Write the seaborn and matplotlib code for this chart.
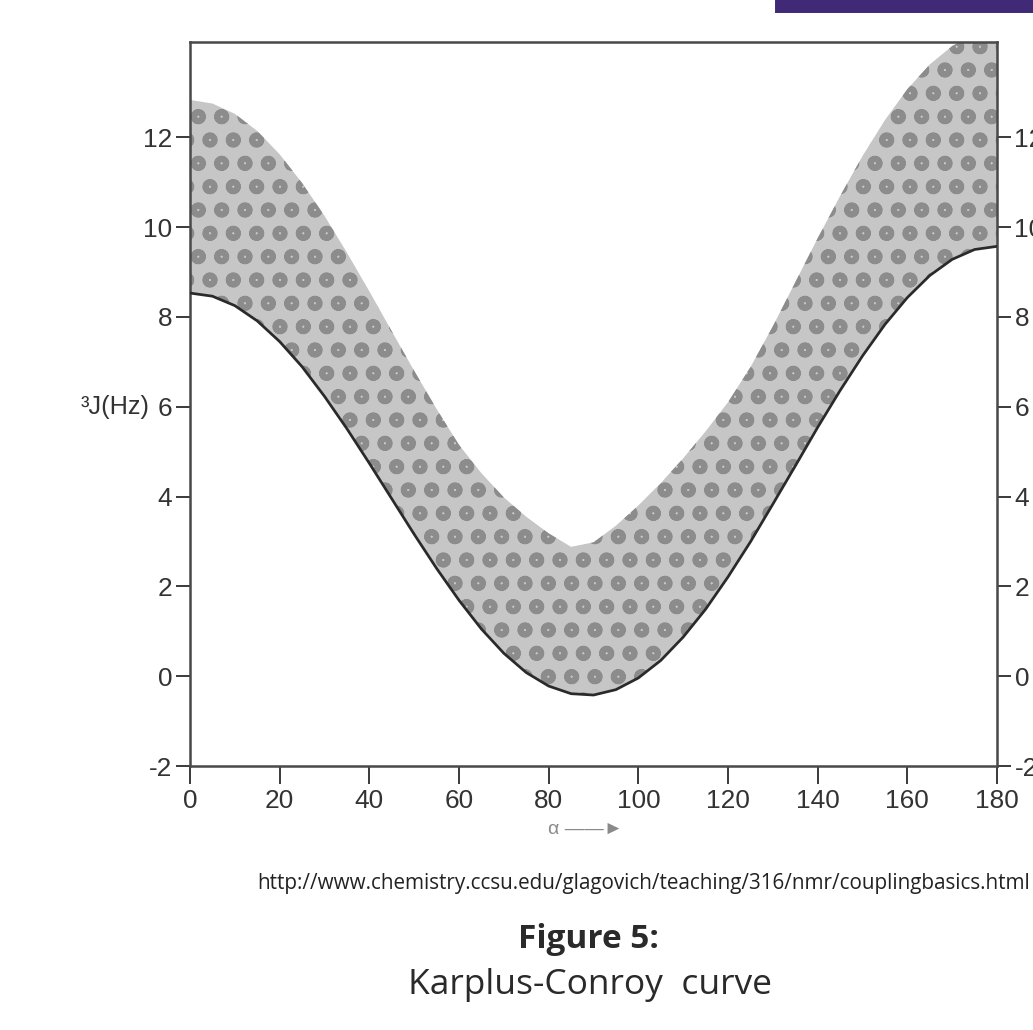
import matplotlib
matplotlib.use("Agg")
import matplotlib.pyplot as plt
import seaborn as sns
import pandas as pd

# dihedral angle (degrees) and coupling constants
alpha = [0, 5, 10, 15, 20, 25, 30, 35, 40, 45, 50, 55, 60, 65, 70, 75, 80, 85, 90,
         95, 100, 105, 110, 115, 120, 125, 130, 135, 140, 145, 150, 155, 160, 165,
         170, 175, 180]
j_lower = [8.53, 8.46, 8.25, 7.91, 7.45, 6.89, 6.23, 5.51, 4.74, 3.95, 3.16, 2.40,
           1.69, 1.05, 0.51, 0.08, -0.22, -0.39, -0.42, -0.30, -0.04, 0.35, 0.87,
           1.49, 2.21, 2.99, 3.83, 4.68, 5.54, 6.36, 7.13, 7.83, 8.43, 8.92, 9.28,
           9.50, 9.57]
j_upper = [12.83, 12.75, 12.52, 12.14, 11.62, 10.98, 10.25, 9.43, 8.57, 7.68, 6.80,
           5.95, 5.15, 4.52, 3.98, 3.55, 3.18, 2.88, 2.98, 3.35, 3.80, 4.30, 4.85,
           5.45, 6.10, 6.88, 7.79, 8.77, 9.75, 10.69, 11.58, 12.38, 13.07, 13.62,
           14.03, 14.29, 14.37]
yticks = [-2, 0, 2, 4, 6, 8, 10, 12]
xticks = [0, 20, 40, 60, 80, 100, 120, 140, 160, 180]

df = pd.DataFrame({"alpha": alpha, "lower": j_lower, "upper": j_upper})

sns.set_theme(style="white")
plt.rcParams["font.family"] = ["Liberation Sans", "DejaVu Sans"]
plt.rcParams["hatch.linewidth"] = 3.0

fig = plt.figure(figsize=(1033 / 140, 1030 / 140), dpi=140)
ax = fig.add_axes([190 / 1033, 1 - 766 / 1030, 807 / 1033, 724 / 1030])

# shaded Karplus band
ax.fill_between(df["alpha"], df["lower"], df["upper"], facecolor="#c6c6c6",
                edgecolor="#8c8c8c", hatch="o", linewidth=0, zorder=1)
sns.lineplot(data=df, x="alpha", y="lower", ax=ax, color="#2a2a2a",
             linewidth=1.4, zorder=3)

ax.set_xlim(0, 180)
ax.set_ylim(-2, 14.12)
ax.set_xticks(xticks)
ax.set_yticks(yticks)
ax.set_yticklabels([str(v) for v in yticks])

for s in ax.spines.values():
    s.set_color("#4a4a4a")
    s.set_linewidth(1.3)

# right-hand labels run off the page edge, as in the scanned original
ax.tick_params(axis="y", which="both", direction="out", length=7, width=1.0,
               color="#3a3a3a", labelsize=13.5, labelcolor="#333333", pad=2,
               left=True, right=True, labelleft=True, labelright=True)
ax.tick_params(axis="x", direction="out", length=9, width=1.0, color="#3a3a3a",
               labelsize=13.5, labelcolor="#333333", pad=3, bottom=True)

ax.set_xlabel("")
ax.set_ylabel("³J(Hz)", rotation=0, fontsize=13, color="#333333", va="center")
ax.yaxis.set_label_coords(-0.093, (6 + 2) / 16.12)

ax.text(0.49, -0.087, "α ——►", transform=ax.transAxes, ha="center", va="center",
        fontsize=10, color="#8a8a8a", family=["Liberation Sans", "DejaVu Sans"])

# caption texts
fig.text(644 / 1033, 1 - 884 / 1030,
         "http://www.chemistry.ccsu.edu/glagovich/teaching/316/nmr/couplingbasics.html",
         ha="center", va="center", fontsize=10.6, color="#222222", family="Open Sans")
fig.text(588 / 1033, 1 - 939 / 1030, "Figure 5:", ha="center", va="center",
         fontsize=17.2, fontweight="bold", color="#2a2a2a", family="Open Sans")
fig.text(590 / 1033, 1 - 985 / 1030, "Karplus-Conroy  curve", ha="center",
         va="center", fontsize=18.2, color="#2a2a2a", family="Open Sans")

# purple banner at the top right
fig.patches.append(plt.Rectangle((776 / 1033, 1 - 12 / 1030), 257 / 1033, 12 / 1030,
                                 transform=fig.transFigure, color="#402a78",
                                 zorder=0))

fig.savefig("out.png", dpi=140)
